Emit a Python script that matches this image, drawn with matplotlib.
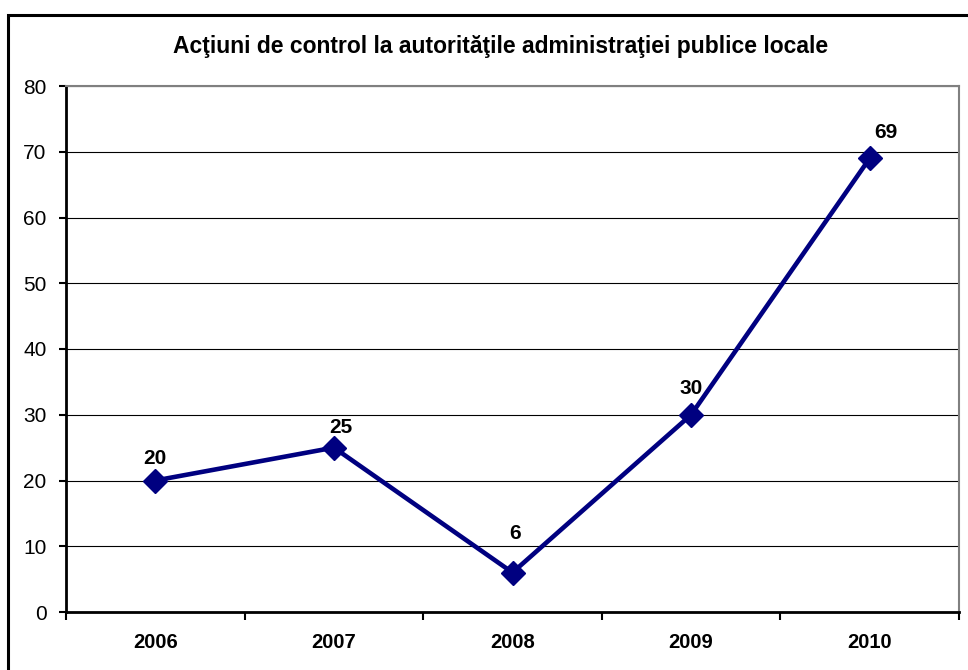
import matplotlib
matplotlib.use("Agg")
import matplotlib.pyplot as plt
from matplotlib.patches import Rectangle
import numpy as np

# Data
years = ["2006", "2007", "2008", "2009", "2010"]
actions = [20, 25, 6, 30, 69]
y_ticks = [0, 10, 20, 30, 40, 50, 60, 70, 80]
title = "Acţiuni de control la autorităţile administraţiei publice locale"

plt.rcParams['font.family'] = ['Liberation Sans', 'DejaVu Sans']

fig = plt.figure(figsize=(9.68, 6.70), dpi=100)
ax = fig.add_axes([66 / 968, 58 / 670, 893 / 968, 526 / 670])

# outer chart frame (runs off the right/bottom of the picture)
fig.patches.append(Rectangle((8 / 968, -0.2), 1.3, 0.2 + 655 / 670,
                             transform=fig.transFigure, fill=False,
                             edgecolor='black', linewidth=2.2, zorder=0))

x = np.arange(len(years))
ax.plot(x, actions, color='#000080', linewidth=3.3, marker='D',
        markersize=12, zorder=3, clip_on=False)

# data labels
label_offsets = [(0, 9), (5, 8), (2, 21), (0, 12), (12, 12)]
for xi, v, off in zip(x, actions, label_offsets):
    ax.annotate(str(v), (xi, v), xytext=off, textcoords='offset points',
                ha='center', va='bottom', fontsize=15, fontweight='bold')

ax.set_xlim(-0.5, len(years) - 0.5)
ax.set_ylim(0, 80)
ax.set_yticks(y_ticks)
ax.set_yticklabels([str(t) for t in y_ticks], fontsize=15)
ax.set_xticks(x)
ax.set_xticklabels(years, fontsize=14.5, fontweight='bold')
ax.set_xticks(np.arange(-0.5, len(years)), minor=True)
ax.tick_params(axis='x', which='major', length=0, pad=15)
ax.tick_params(axis='x', which='minor', length=6, width=1.5, direction='out')
ax.tick_params(axis='y', length=5, width=1.5, pad=9)

ax.grid(axis='y', color='black', linewidth=0.8)
ax.set_axisbelow(True)
for s in ['left', 'bottom']:
    ax.spines[s].set_linewidth(2)
    ax.spines[s].set_color('black')
for s in ['top', 'right']:
    ax.spines[s].set_linewidth(1.5)
    ax.spines[s].set_color('#808080')

fig.text(501 / 968, 1 - 47 / 670, title, ha='center', va='center',
         fontsize=16.5, fontweight='bold')

plt.savefig('out.png', dpi=100)
